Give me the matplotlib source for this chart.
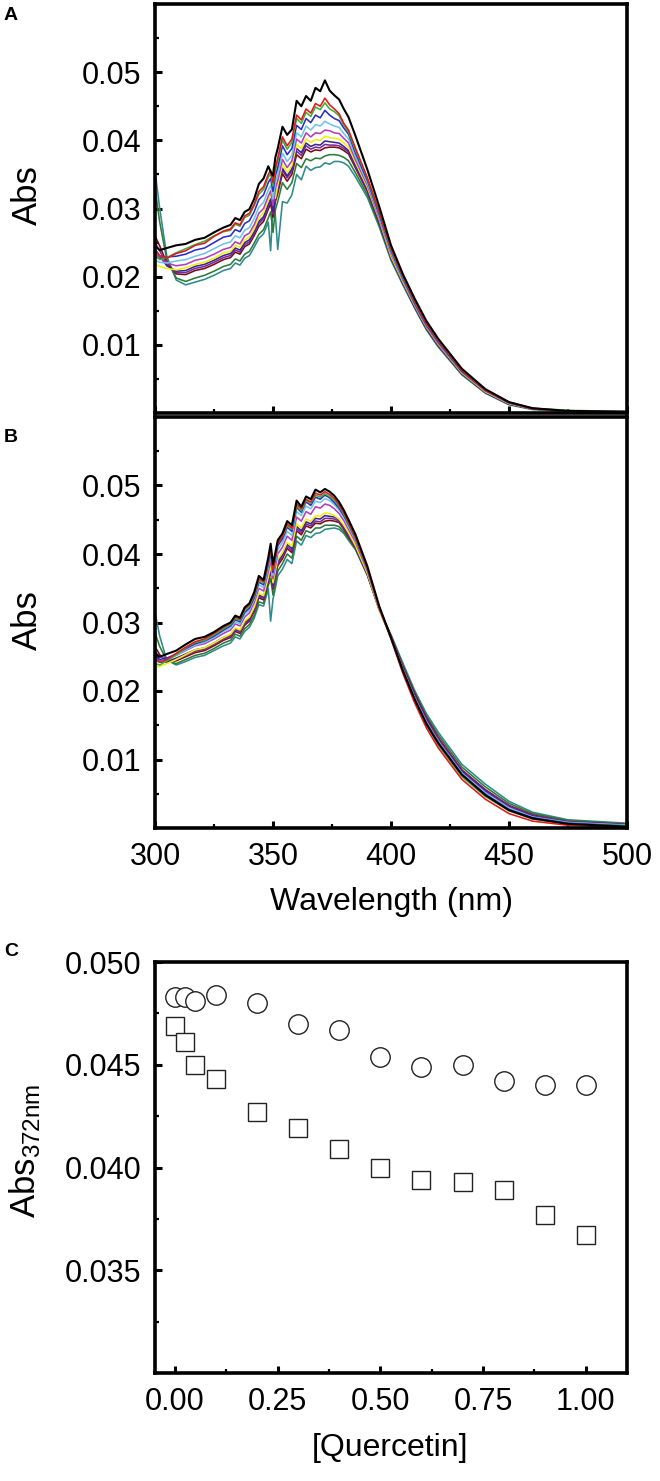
import matplotlib
matplotlib.use("Agg")
import matplotlib.pyplot as plt
from matplotlib.ticker import MultipleLocator, FormatStrFormatter
import numpy as np

plt.rcParams['font.family'] = ['Liberation Sans', 'DejaVu Sans']
plt.rcParams['mathtext.fontset'] = 'custom'
plt.rcParams['mathtext.rm'] = 'Liberation Sans'
plt.rcParams['mathtext.default'] = 'regular'

# ---------------- data ----------------
# wavelength grid (nm)
wavelength = [300, 302, 305, 309, 313, 317,
              321, 325, 329, 332, 334, 336,
              338, 340, 342, 344, 346, 348,
              349, 350, 351, 352, 354, 356,
              358, 360, 362, 364, 366, 368,
              370, 372, 374, 376, 378, 380,
              382, 385, 390, 395, 400, 405,
              410, 415, 420, 430, 440, 450,
              460, 475, 500]

# Panel A spectra (absorbance x 1000)
A_black = [24.5, 23.9, 24.2, 24.6, 24.8, 25.4,
           25.7, 26.5, 27.2, 27.6, 28.6, 28.3,
           29.5, 29.9, 31.4, 33.6, 34.4, 36.2,
           35.4, 34.8, 37.5, 38.8, 42.0, 40.8,
           41.6, 45.8, 45.0, 46.5, 45.8, 47.7,
           47.2, 48.8, 47.3, 46.6, 46.0, 44.6,
           43.4, 40.6, 35.7, 30.3, 24.6, 20.4,
           16.8, 13.5, 10.9, 6.5, 3.5, 1.6,
           0.7, 0.3, 0.2]
A_red = [24.0, 23.1, 22.7, 23.4, 23.8, 24.6,
         24.9, 25.9, 26.7, 27.0, 27.9, 27.6,
         28.9, 29.3, 30.6, 32.5, 33.2, 35.0,
         35.6, 33.8, 36.0, 37.4, 40.5, 39.2,
         40.2, 43.7, 43.0, 44.6, 44.0, 45.4,
         45.0, 46.2, 45.2, 44.6, 43.9, 42.5,
         41.5, 38.8, 34.5, 29.5, 24.1, 20.1,
         16.4, 13.1, 10.6, 6.2, 3.3, 1.5,
         0.6, 0.3, 0.1]
A_green = [23.4, 22.5, 22.8, 23.5, 24.1, 24.7,
           25.2, 26.0, 26.6, 26.8, 27.7, 27.4,
           28.7, 29.0, 30.4, 32.1, 32.8, 34.6,
           35.1, 33.3, 35.6, 36.9, 40.0, 38.7,
           39.7, 43.2, 42.5, 44.1, 43.5, 44.9,
           44.5, 45.5, 44.6, 44.2, 43.6, 42.2,
           41.2, 38.5, 34.4, 29.4, 24.0, 20.0,
           16.3, 13.1, 10.6, 6.3, 3.4, 1.6,
           0.7, 0.4, 0.2]
A_blue = [23.0, 22.6, 22.9, 23.0, 23.3, 23.9,
          24.2, 25.0, 25.8, 26.0, 26.9, 26.6,
          27.8, 28.2, 29.5, 31.3, 32.0, 33.8,
          34.4, 32.5, 34.8, 36.0, 39.2, 37.9,
          38.8, 42.2, 41.6, 43.2, 42.6, 43.7,
          43.3, 44.4, 43.7, 43.2, 42.9, 41.8,
          40.9, 38.1, 34.1, 29.1, 23.8, 19.8,
          16.1, 12.9, 10.4, 6.1, 3.3, 1.5,
          0.6, 0.3, 0.1]
A_lightblue = [22.4, 22.1, 22.0, 22.3, 22.5, 23.0,
               23.4, 24.1, 24.8, 25.1, 26.0, 25.7,
               26.8, 27.2, 28.5, 30.2, 30.9, 32.7,
               33.4, 31.4, 33.8, 35.0, 38.1, 36.9,
               37.8, 41.1, 40.5, 42.1, 41.5, 42.3,
               42.1, 42.8, 42.4, 42.1, 41.9, 41.0,
               40.2, 37.6, 33.7, 28.8, 23.5, 19.6,
               16.0, 12.8, 10.3, 6.0, 3.2, 1.4,
               0.6, 0.3, 0.1]
A_magenta = [23.5, 22.8, 22.0, 21.6, 21.8, 22.4,
             22.7, 23.3, 24.0, 24.3, 25.1, 24.8,
             26.0, 26.4, 27.6, 29.3, 30.0, 31.8,
             32.6, 30.5, 32.9, 34.1, 37.2, 36.0,
             37.0, 40.2, 39.6, 41.1, 40.5, 41.1,
             41.0, 41.5, 41.4, 41.1, 41.0, 40.3,
             39.6, 37.1, 33.4, 28.6, 23.3, 19.5,
             15.9, 12.7, 10.2, 6.0, 3.2, 1.5,
             0.7, 0.3, 0.2]
A_yellow = [21.8, 21.5, 21.2, 21.0, 21.3, 21.8,
            22.1, 22.7, 23.5, 23.7, 24.6, 24.3,
            25.4, 25.8, 27.0, 28.6, 29.4, 31.2,
            32.0, 36.0, 31.5, 33.4, 36.5, 35.3,
            36.3, 39.4, 38.8, 40.2, 39.7, 40.1,
            40.0, 40.6, 40.4, 40.3, 40.2, 39.6,
            39.0, 36.7, 33.1, 28.4, 23.0, 19.3,
            15.8, 12.6, 10.1, 5.9, 3.1, 1.4,
            0.6, 0.3, 0.1]
A_indigo = [24.0, 23.0, 21.6, 20.8, 20.9, 21.5,
            21.8, 22.4, 23.1, 23.4, 24.2, 23.9,
            25.0, 25.4, 26.6, 28.1, 28.8, 30.6,
            31.4, 29.5, 31.8, 33.0, 35.9, 34.8,
            35.8, 38.8, 38.2, 39.6, 39.1, 39.4,
            39.3, 39.9, 39.8, 39.7, 39.6, 39.1,
            38.5, 36.3, 32.8, 28.2, 22.9, 19.2,
            15.7, 12.5, 10.0, 5.9, 3.1, 1.4,
            0.6, 0.3, 0.1]
A_purple = [25.0, 23.8, 21.8, 20.6, 20.6, 21.2,
            21.5, 22.1, 22.8, 23.1, 23.9, 23.6,
            24.7, 25.1, 26.3, 27.8, 28.5, 30.3,
            31.1, 29.2, 31.5, 32.7, 35.6, 34.5,
            35.5, 38.4, 37.8, 39.2, 38.7, 39.0,
            38.9, 39.4, 39.3, 39.3, 39.2, 38.8,
            38.3, 36.1, 32.7, 28.1, 22.9, 19.2,
            15.7, 12.5, 10.0, 5.9, 3.1, 1.4,
            0.6, 0.3, 0.1]
A_maroon = [26.0, 24.5, 22.0, 20.4, 20.3, 20.9,
            21.2, 21.8, 22.5, 22.8, 23.6, 23.3,
            24.4, 24.8, 26.0, 27.4, 28.1, 29.9,
            30.7, 28.7, 31.0, 32.2, 35.1, 34.0,
            35.0, 37.9, 37.3, 38.7, 38.3, 38.6,
            38.5, 38.9, 39.0, 39.0, 38.9, 38.5,
            38.0, 35.9, 32.5, 27.9, 22.8, 19.1,
            15.6, 12.4, 9.9, 5.8, 3.0, 1.3,
            0.6, 0.3, 0.1]
A_darkgreen = [33.0, 28.0, 22.5, 19.8, 19.3, 19.8,
               20.2, 20.8, 21.5, 21.8, 22.6, 22.3,
               23.3, 23.7, 24.9, 26.2, 26.9, 28.6,
               29.5, 26.5, 29.8, 31.0, 33.8, 32.8,
               33.8, 36.6, 36.0, 37.3, 37.0, 37.4,
               37.3, 37.7, 37.9, 37.9, 37.8, 37.5,
               37.0, 35.2, 32.0, 27.6, 22.6, 19.0,
               15.5, 12.3, 9.8, 5.7, 3.0, 1.3,
               0.6, 0.3, 0.1]
A_teal = [35.5, 30.0, 23.0, 19.5, 18.8, 19.2,
          19.6, 20.2, 20.9, 21.2, 22.0, 21.7,
          22.7, 23.1, 24.3, 25.6, 26.3, 28.0,
          23.8, 30.5, 29.0, 24.0, 31.0, 30.8,
          32.0, 35.0, 34.2, 36.2, 35.6, 36.0,
          36.1, 36.7, 36.5, 36.9, 36.9, 36.7,
          36.2, 34.6, 31.6, 27.3, 22.4, 18.8,
          15.4, 12.2, 9.7, 5.6, 2.9, 1.2,
          0.5, 0.2, 0.1]

# Panel B spectra (absorbance x 1000)
B_black = [25.5, 25.0, 25.4, 25.9, 26.8, 27.6,
           27.9, 28.6, 29.5, 30.0, 31.0, 30.7,
           32.2, 32.8, 34.4, 36.8, 36.2, 39.5,
           41.5, 38.5, 40.2, 42.0, 43.0, 44.8,
           44.2, 47.8, 46.9, 48.4, 48.0, 49.4,
           49.0, 49.5, 49.1, 48.5, 47.6, 46.4,
           45.0, 42.8, 38.2, 32.4, 27.8, 23.0,
           18.8, 15.2, 12.4, 7.8, 4.8, 2.6,
           1.4, 0.6, 0.2]
B_red = [24.8, 24.2, 24.6, 25.5, 26.4, 27.2,
         27.6, 28.4, 29.3, 29.9, 30.8, 30.5,
         32.0, 32.6, 34.1, 36.4, 36.0, 39.0,
         40.8, 37.6, 39.6, 41.5, 42.6, 44.4,
         43.8, 47.3, 46.6, 48.0, 47.6, 48.9,
         48.6, 49.1, 48.7, 48.1, 47.2, 46.0,
         44.6, 42.4, 37.9, 32.1, 27.6, 22.6,
         18.3, 14.6, 11.7, 7.1, 4.2, 2.1,
         1.0, 0.4, 0.1]
B_green = [24.0, 23.8, 24.4, 25.3, 26.3, 27.1,
           27.4, 28.2, 29.1, 29.7, 30.6, 30.3,
           31.8, 32.4, 33.9, 36.2, 35.8, 38.9,
           40.6, 37.8, 39.8, 41.7, 42.5, 44.2,
           43.6, 47.0, 46.3, 47.8, 47.4, 48.6,
           48.3, 48.8, 48.4, 47.8, 47.0, 45.8,
           44.4, 42.3, 37.9, 32.2, 27.7, 22.8,
           18.6, 15.0, 12.1, 7.5, 4.6, 2.5,
           1.3, 0.6, 0.3]
B_blue = [25.2, 24.6, 24.8, 25.4, 26.2, 26.9,
          27.3, 28.0, 28.9, 29.5, 30.4, 30.1,
          31.5, 32.1, 33.6, 35.9, 35.5, 38.5,
          40.3, 37.3, 39.3, 41.2, 42.2, 43.9,
          43.3, 46.8, 46.1, 47.6, 47.1, 48.3,
          48.0, 48.6, 48.2, 47.5, 46.7, 45.6,
          44.3, 42.2, 37.8, 32.2, 27.8, 23.0,
          18.8, 15.3, 12.4, 7.8, 4.9, 2.7,
          1.5, 0.7, 0.3]
B_lightblue = [24.6, 24.3, 24.5, 25.2, 26.0, 26.7,
               27.1, 27.8, 28.7, 29.2, 30.1, 29.8,
               31.2, 31.8, 33.3, 35.5, 35.1, 38.0,
               39.8, 36.9, 38.8, 40.6, 41.7, 43.3,
               42.7, 46.2, 45.6, 47.0, 46.6, 47.7,
               47.5, 48.1, 47.8, 47.2, 46.4, 45.4,
               44.0, 42.0, 37.7, 32.1, 27.8, 23.1,
               19.0, 15.5, 12.6, 8.0, 5.1, 2.9,
               1.6, 0.8, 0.4]
B_magenta = [25.8, 25.0, 24.8, 25.2, 25.9, 26.6,
             26.9, 27.6, 28.4, 28.9, 29.8, 29.5,
             30.8, 31.4, 32.9, 35.0, 34.6, 37.4,
             39.2, 36.4, 38.2, 40.0, 41.0, 42.6,
             42.0, 45.4, 44.8, 46.2, 45.8, 46.9,
             46.7, 47.3, 47.1, 46.6, 45.9, 44.9,
             43.6, 41.7, 37.5, 32.0, 27.9, 23.2,
             19.1, 15.6, 12.8, 8.1, 5.2, 3.0,
             1.6, 0.8, 0.4]
B_yellow = [23.5, 23.6, 24.0, 24.6, 25.3, 26.0,
            26.3, 27.0, 27.8, 28.3, 29.2, 28.9,
            30.2, 30.8, 32.2, 34.3, 33.9, 36.6,
            38.4, 35.8, 37.5, 39.2, 40.2, 41.7,
            41.1, 44.4, 43.8, 45.1, 44.8, 45.6,
            45.5, 46.0, 45.9, 45.6, 45.1, 44.2,
            43.1, 41.2, 37.2, 31.8, 27.8, 23.2,
            19.0, 15.4, 12.5, 7.7, 4.8, 2.6,
            1.4, 0.6, 0.3]
B_indigo = [24.5, 24.2, 24.3, 24.8, 25.4, 26.0,
            26.3, 27.0, 27.8, 28.2, 29.1, 28.8,
            30.0, 30.6, 32.0, 34.0, 33.7, 36.3,
            38.0, 35.4, 37.2, 38.9, 39.9, 41.4,
            40.8, 44.0, 43.4, 44.7, 44.4, 45.2,
            45.1, 45.6, 45.5, 45.4, 45.0, 44.0,
            42.9, 41.1, 37.2, 31.9, 27.9, 23.4,
            19.3, 15.8, 12.9, 8.3, 5.4, 3.1,
            1.7, 0.8, 0.4]
B_purple = [25.0, 24.5, 24.2, 24.6, 25.2, 25.8,
            26.1, 26.8, 27.6, 28.0, 28.9, 28.6,
            29.8, 30.4, 31.8, 33.8, 33.5, 36.1,
            37.8, 35.1, 36.9, 38.6, 39.6, 41.1,
            40.5, 43.7, 43.1, 44.4, 44.1, 44.8,
            44.7, 45.2, 45.2, 45.1, 44.8, 43.8,
            42.7, 41.0, 37.1, 31.9, 27.9, 23.5,
            19.4, 15.9, 13.0, 8.4, 5.5, 3.2,
            1.8, 0.9, 0.5]
B_maroon = [26.5, 25.3, 24.3, 24.4, 25.0, 25.6,
            25.9, 26.6, 27.4, 27.8, 28.7, 28.4,
            29.6, 30.2, 31.6, 33.6, 33.3, 35.9,
            37.6, 34.9, 36.7, 38.3, 39.3, 40.8,
            40.2, 43.4, 42.8, 44.1, 43.8, 44.5,
            44.4, 44.8, 44.9, 44.8, 44.6, 43.6,
            42.5, 40.9, 37.0, 31.9, 28.0, 23.6,
            19.6, 16.1, 13.2, 8.5, 5.6, 3.3,
            1.9, 0.9, 0.5]
B_darkgreen = [28.5, 26.5, 24.5, 24.0, 24.6, 25.2,
               25.5, 26.2, 27.0, 27.4, 28.3, 28.0,
               29.1, 29.7, 31.0, 33.0, 32.8, 35.4,
               36.4, 34.0, 35.6, 37.5, 38.6, 40.0,
               39.4, 42.6, 42.0, 43.4, 43.1, 43.8,
               43.8, 44.2, 44.2, 44.2, 44.0, 43.2,
               42.2, 40.7, 36.9, 31.9, 28.1, 23.8,
               19.9, 16.4, 13.6, 8.9, 6.0, 3.6,
               2.1, 1.1, 0.6]
B_teal = [31.5, 28.0, 24.5, 23.8, 24.3, 24.9,
          25.2, 25.9, 26.6, 27.0, 27.9, 27.6,
          28.7, 29.3, 30.6, 32.6, 32.4, 34.9,
          30.2, 33.4, 35.0, 36.8, 37.8, 39.2,
          38.6, 41.9, 41.3, 42.7, 42.4, 43.0,
          43.1, 43.6, 43.7, 43.8, 43.6, 43.0,
          42.0, 40.6, 36.9, 32.0, 28.2, 24.1,
          20.1, 16.7, 14.0, 9.3, 6.4, 3.9,
          2.3, 1.2, 0.7]

# Panel C
quercetin = [0.0, 0.025, 0.05, 0.1, 0.2, 0.3, 0.4, 0.5, 0.6, 0.7, 0.8, 0.9, 1.0]
abs_circles = [0.0483, 0.0483, 0.0481, 0.0484, 0.0480, 0.0470, 0.0467,
               0.0454, 0.0449, 0.0450, 0.0442, 0.0440, 0.0440]
abs_squares = [0.0469, 0.0461, 0.0450, 0.0443, 0.0427, 0.0419, 0.0409,
               0.0400, 0.0394, 0.0393, 0.0389, 0.0377, 0.0367]

colors = {'black': '#000000', 'red': '#e01a1a', 'green': '#3fae3a',
          'blue': '#2c2cc8', 'lightblue': '#70c4e4', 'magenta': '#b23fb8',
          'yellow': '#f2ee10', 'indigo': '#3b2590', 'purple': '#7a2a9a',
          'maroon': '#7a0a14', 'darkgreen': '#2d7a3a', 'teal': '#2f8a8c'}

order = ['teal', 'darkgreen', 'maroon', 'purple', 'indigo', 'yellow',
         'magenta', 'lightblue', 'blue', 'green', 'red', 'black']
A_series = {'black': A_black, 'red': A_red, 'green': A_green, 'blue': A_blue,
            'lightblue': A_lightblue, 'magenta': A_magenta, 'yellow': A_yellow,
            'indigo': A_indigo, 'purple': A_purple, 'maroon': A_maroon,
            'darkgreen': A_darkgreen, 'teal': A_teal}
B_series = {'black': B_black, 'red': B_red, 'green': B_green, 'blue': B_blue,
            'lightblue': B_lightblue, 'magenta': B_magenta, 'yellow': B_yellow,
            'indigo': B_indigo, 'purple': B_purple, 'maroon': B_maroon,
            'darkgreen': B_darkgreen, 'teal': B_teal}

# ---------------- figure ----------------
W, H = 660, 1481
fig = plt.figure(figsize=(W / 100, H / 100), dpi=100)


def px_axes(left, top, right, bottom):
    return fig.add_axes([left / W, 1 - bottom / H, (right - left) / W, (bottom - top) / H])


axA = px_axes(155, 4, 627, 413)
axB = px_axes(155, 417, 627, 828)
axC = px_axes(155, 962, 627, 1373)


def style(ax):
    for s in ax.spines.values():
        s.set_linewidth(2.6)
    ax.tick_params(which='both', direction='in', top=False, right=False,
                   labelsize=22, pad=10)
    ax.tick_params(which='major', length=5, width=2.2)
    ax.tick_params(which='minor', length=2.8, width=1.6)


for ax, series in ((axA, A_series), (axB, B_series)):
    wl = np.array(wavelength)
    for name in order:
        lw = 1.5 if name == 'black' else 1.15
        ax.plot(wl, np.array(series[name]) / 1000.0, color=colors[name], lw=lw)
    ax.set_xlim(300, 500)
    ax.set_ylim(0, 0.06)
    ax.set_yticks([0.01, 0.02, 0.03, 0.04, 0.05])
    ax.yaxis.set_major_formatter(FormatStrFormatter('%.2f'))
    ax.yaxis.set_minor_locator(MultipleLocator(0.005))
    ax.set_xticks([300, 350, 400, 450, 500])
    ax.xaxis.set_minor_locator(MultipleLocator(25))
    style(ax)

axA.tick_params(axis='x', labelbottom=False)

axC.plot(quercetin, abs_circles, linestyle='none', marker='o', markersize=14,
         markerfacecolor='white', markeredgecolor='#222222', markeredgewidth=1.0)
axC.plot(quercetin, abs_squares, linestyle='none', marker='s', markersize=13,
         markerfacecolor='white', markeredgecolor='#222222', markeredgewidth=1.0)
axC.set_xlim(-0.048, 1.10)
axC.set_ylim(0.030, 0.050)
axC.set_yticks([0.035, 0.040, 0.045, 0.050])
axC.yaxis.set_major_formatter(FormatStrFormatter('%.3f'))
axC.yaxis.set_minor_locator(MultipleLocator(0.0025))
axC.set_xticks([0.0, 0.25, 0.5, 0.75, 1.0])
axC.xaxis.set_major_formatter(FormatStrFormatter('%.2f'))
axC.xaxis.set_minor_locator(MultipleLocator(0.125))
style(axC)

# ---------------- labels ----------------
def ftext(x, y, s, **kw):
    fig.text(x / W, 1 - y / H, s, **kw)


ftext(11, 15, 'A', fontsize=14, fontweight='bold', ha='center', va='center')
ftext(11, 437, 'B', fontsize=14, fontweight='bold', ha='center', va='center')
ftext(11, 952, 'C', fontsize=14, fontweight='bold', ha='center', va='center')

ftext(27, 195, 'Abs', fontsize=25, rotation=90, ha='center', va='center')
ftext(27, 620, 'Abs', fontsize=25, rotation=90, ha='center', va='center')
ftext(25, 1151, 'Abs$_{372nm}$', fontsize=25, rotation=90, ha='center', va='center')

ftext(391, 902, 'Wavelength (nm)', fontsize=23, ha='center', va='center')
ftext(390, 1448, '[Quercetin]', fontsize=23, ha='center', va='center')

fig.savefig('out.png', dpi=100)
